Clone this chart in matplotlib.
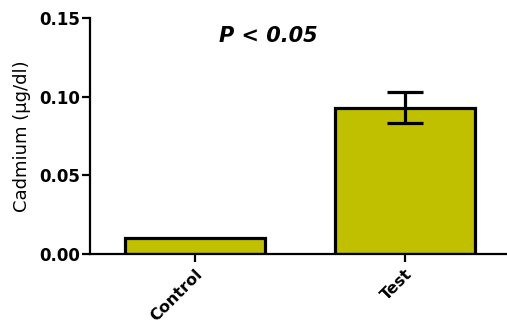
import matplotlib
matplotlib.use("Agg")
import matplotlib.pyplot as plt

plt.rcParams["font.family"] = ["DejaVu Sans"]

categories = ["Control", "Test"]
means = [0.010, 0.093]
errors = [0.0, 0.010]
yticks = [0.00, 0.05, 0.10, 0.15]
ytick_labels = ["0.00", "0.05", "0.10", "0.15"]

fig = plt.figure(figsize=(5.07, 3.26), dpi=100)
ax = fig.add_axes([90/507, 1-254/326, 420/507, (254-18)/326])

x = list(range(len(categories)))
ax.bar(x, means, width=0.667, color="#C0C000", edgecolor="black", linewidth=2.3, zorder=2)
ax.errorbar([x[1]], [means[1]], yerr=[errors[1]], fmt="none", ecolor="black",
            elinewidth=2.3, capsize=13, capthick=2.3, zorder=3)

ax.set_xlim(-0.5, 1.5)
ax.set_ylim(0, 0.15)
ax.set_yticks(yticks)
ax.set_yticklabels(ytick_labels, fontsize=12, fontweight="bold")
ax.set_xticks(x)
ax.set_xticklabels(categories, rotation=45, ha="right", rotation_mode="anchor",
                   fontsize=11.5, fontweight="bold")
ax.spines["top"].set_visible(False)
ax.spines["right"].set_visible(False)
ax.spines["left"].set_linewidth(1.6)
ax.spines["bottom"].set_linewidth(1.6)
ax.tick_params(axis="both", width=1.6, length=6)
ax.tick_params(axis="y", pad=1)
ax.tick_params(axis="x", pad=3)
ax.set_ylabel("Cadmium (\u03bcg/dl)", fontsize=13, labelpad=6)

fig.text(268/507, 1-36/326, "P < 0.05", fontsize=15, fontweight="bold", style="italic",
         ha="center", va="center")

fig.savefig("out.png", dpi=100)
